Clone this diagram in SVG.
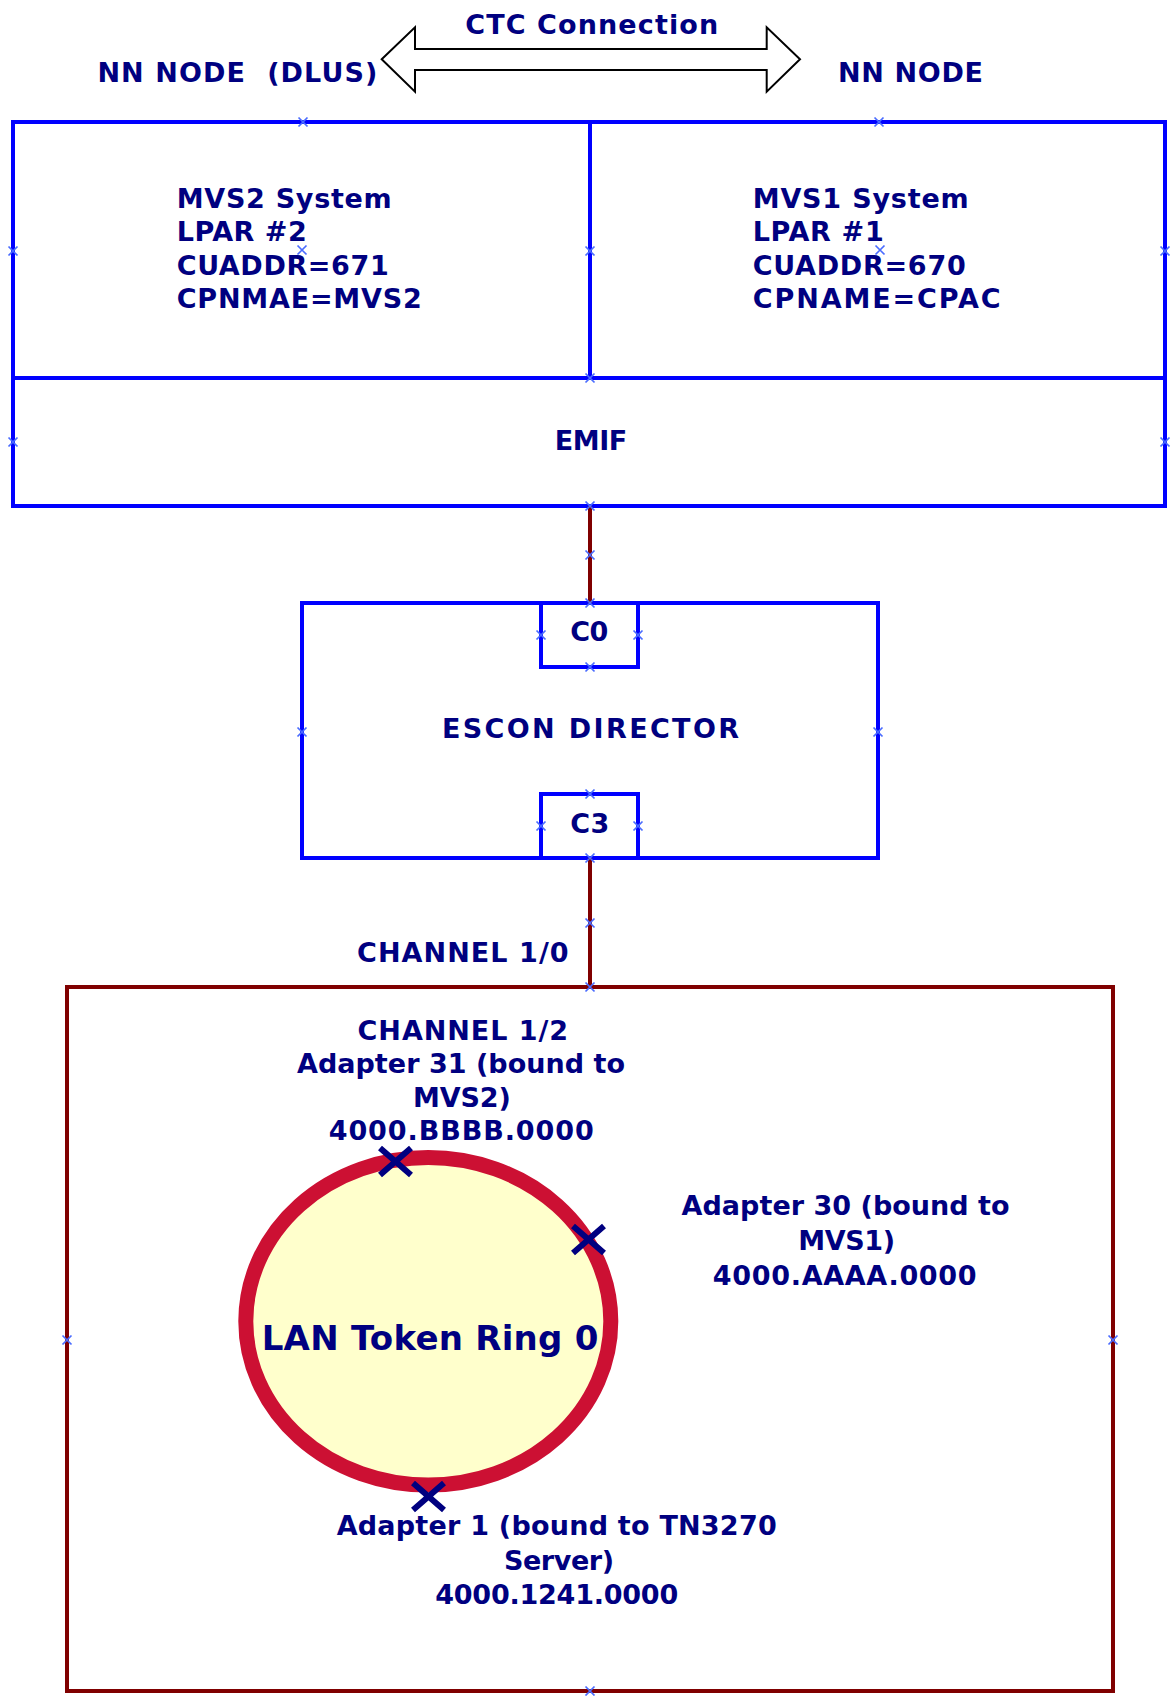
<svg xmlns="http://www.w3.org/2000/svg" xmlns:xlink="http://www.w3.org/1999/xlink" width="1175" height="1696" viewBox="0 0 1175 1696">
<style>
.t{font-family:"DejaVu Sans","Liberation Sans",sans-serif;font-weight:bold;font-size:27px;fill:#000080;}
.c{text-anchor:middle;}
.big{font-size:34px;}
.blue{fill:none;stroke:#0000FF;stroke-width:4;}
.dred{fill:none;stroke:#800000;stroke-width:4;}
.pt{stroke:#4a6cff;stroke-width:1.7;fill:none;}
.ax{stroke:#000080;stroke-width:6;fill:none;stroke-linecap:butt;}
</style>
<defs>
<g id="pt"><path class="pt" d="M-4.5,-4.5 L4.5,4.5 M4.5,-4.5 L-4.5,4.5"/></g>
</defs>
<rect width="1175" height="1696" fill="#FFFFFF"/>

<g id="ctc-connection">
<path d="M381.7,59.3 L415,27.3 L415,49 L766.7,49 L766.7,27.3 L800,59.3 L766.7,91.7 L766.7,70 L415,70 L415,91.7 Z" fill="#FFFFFF" stroke="#000000" stroke-width="2" stroke-linejoin="miter"/>
<text class="t c" x="591.7" y="34" textLength="253" lengthAdjust="spacing">CTC Connection</text>
</g>

<g id="label-nn-node-dlus">
<text class="t" x="97.4" y="82" textLength="280" lengthAdjust="spacing" xml:space="preserve">NN NODE  (DLUS)</text>
</g>
<g id="label-nn-node">
<text class="t" x="838" y="82" textLength="145" lengthAdjust="spacing">NN NODE</text>
</g>

<g id="node-mvs2">
<rect class="blue" x="13" y="122" width="577" height="256"/>
<text class="t" x="176.7" y="208" textLength="215" lengthAdjust="spacing">MVS2 System</text>
<text class="t" x="176.7" y="241" textLength="130" lengthAdjust="spacing">LPAR #2</text>
<text class="t" x="176.7" y="275" textLength="212" lengthAdjust="spacing">CUADDR=671</text>
<text class="t" x="176.7" y="308" textLength="245" lengthAdjust="spacing">CPNMAE=MVS2</text>
</g>

<g id="node-mvs1">
<rect class="blue" x="590" y="122" width="575" height="256"/>
<text class="t" x="752.7" y="208" textLength="216" lengthAdjust="spacing">MVS1 System</text>
<text class="t" x="752.7" y="241" textLength="131" lengthAdjust="spacing">LPAR #1</text>
<text class="t" x="752.7" y="275" textLength="213" lengthAdjust="spacing">CUADDR=670</text>
<text class="t" x="752.7" y="308" textLength="248" lengthAdjust="spacing">CPNAME=CPAC</text>
</g>

<g id="node-emif">
<rect class="blue" x="13" y="378" width="1152" height="128"/>
<text class="t c" x="591" y="450" textLength="72.4" lengthAdjust="spacing">EMIF</text>
</g>

<g id="node-escon-director">
<rect class="blue" x="302" y="603" width="576" height="255"/>
<text class="t c" x="590.5" y="738" textLength="297" lengthAdjust="spacing">ESCON DIRECTOR</text>
</g>

<g id="node-c0">
<rect class="blue" x="541" y="603" width="97" height="64"/>
<text class="t c" x="589.3" y="641" textLength="38" lengthAdjust="spacing">C0</text>
</g>

<g id="node-c3">
<rect class="blue" x="541" y="794" width="97" height="64"/>
<text class="t c" x="589.7" y="833" textLength="39" lengthAdjust="spacing">C3</text>
</g>

<g id="node-lan-box">
<rect class="dred" x="67" y="987" width="1046" height="704"/>
<text class="t c" x="462.8" y="1040" textLength="210.4" lengthAdjust="spacing">CHANNEL 1/2</text>
<text class="t c" x="461" y="1073" textLength="328" lengthAdjust="spacing">Adapter 31 (bound to</text>
<text class="t c" x="461.9" y="1107" textLength="97.7" lengthAdjust="spacing">MVS2)</text>
<text class="t c" x="461.2" y="1140" textLength="265" lengthAdjust="spacing">4000.BBBB.0000</text>
<text class="t c" x="845.6" y="1215" textLength="328" lengthAdjust="spacing">Adapter 30 (bound to</text>
<text class="t c" x="846.6" y="1250" textLength="96.8" lengthAdjust="spacing">MVS1)</text>
<text class="t c" x="844.7" y="1285" textLength="263.8" lengthAdjust="spacing">4000.AAAA.0000</text>
<text class="t c" x="556.7" y="1535" textLength="440" lengthAdjust="spacing">Adapter 1 (bound to TN3270</text>
<text class="t c" x="559" y="1570" textLength="110" lengthAdjust="spacing">Server)</text>
<text class="t c" x="556.7" y="1604" textLength="243" lengthAdjust="spacing">4000.1241.0000</text>
</g>

<g id="node-token-ring">
<ellipse cx="428.3" cy="1321.3" rx="182.5" ry="163.8" fill="#FFFFCC" stroke="#CC1033" stroke-width="15"/>
<text class="t big c" x="430" y="1350" textLength="336.6" lengthAdjust="spacing">LAN Token Ring 0</text>
<path class="ax" d="M380,1148 L411,1175 M411,1148 L380,1175"/>
<path class="ax" d="M573,1226 L604,1253 M604,1226 L573,1253"/>
<path class="ax" d="M413,1483 L444,1510 M444,1483 L413,1510"/>
</g>

<g id="connectors">
<line class="dred" x1="590" y1="506" x2="590" y2="603"/>
<line class="dred" x1="590" y1="858" x2="590" y2="987"/>
<text class="t" x="357" y="962" textLength="211.6" lengthAdjust="spacing">CHANNEL 1/0</text>
</g>

<g id="connection-points">
<use xlink:href="#pt" x="303" y="122"/>
<use xlink:href="#pt" x="879" y="122"/>
<use xlink:href="#pt" x="13" y="251"/>
<use xlink:href="#pt" x="590" y="251"/>
<use xlink:href="#pt" x="1165" y="251"/>
<use xlink:href="#pt" x="302" y="250"/>
<use xlink:href="#pt" x="880" y="250"/>
<use xlink:href="#pt" x="590" y="378"/>
<use xlink:href="#pt" x="13" y="442"/>
<use xlink:href="#pt" x="1165" y="442"/>
<use xlink:href="#pt" x="590" y="506"/>
<use xlink:href="#pt" x="590" y="555"/>
<use xlink:href="#pt" x="590" y="603"/>
<use xlink:href="#pt" x="541" y="635"/>
<use xlink:href="#pt" x="638" y="635"/>
<use xlink:href="#pt" x="590" y="667"/>
<use xlink:href="#pt" x="302" y="732"/>
<use xlink:href="#pt" x="878" y="732"/>
<use xlink:href="#pt" x="590" y="794"/>
<use xlink:href="#pt" x="541" y="826"/>
<use xlink:href="#pt" x="638" y="826"/>
<use xlink:href="#pt" x="590" y="858"/>
<use xlink:href="#pt" x="590" y="923"/>
<use xlink:href="#pt" x="590" y="987"/>
<use xlink:href="#pt" x="67" y="1340"/>
<use xlink:href="#pt" x="1113" y="1340"/>
<use xlink:href="#pt" x="590" y="1691"/>
</g>
</svg>
